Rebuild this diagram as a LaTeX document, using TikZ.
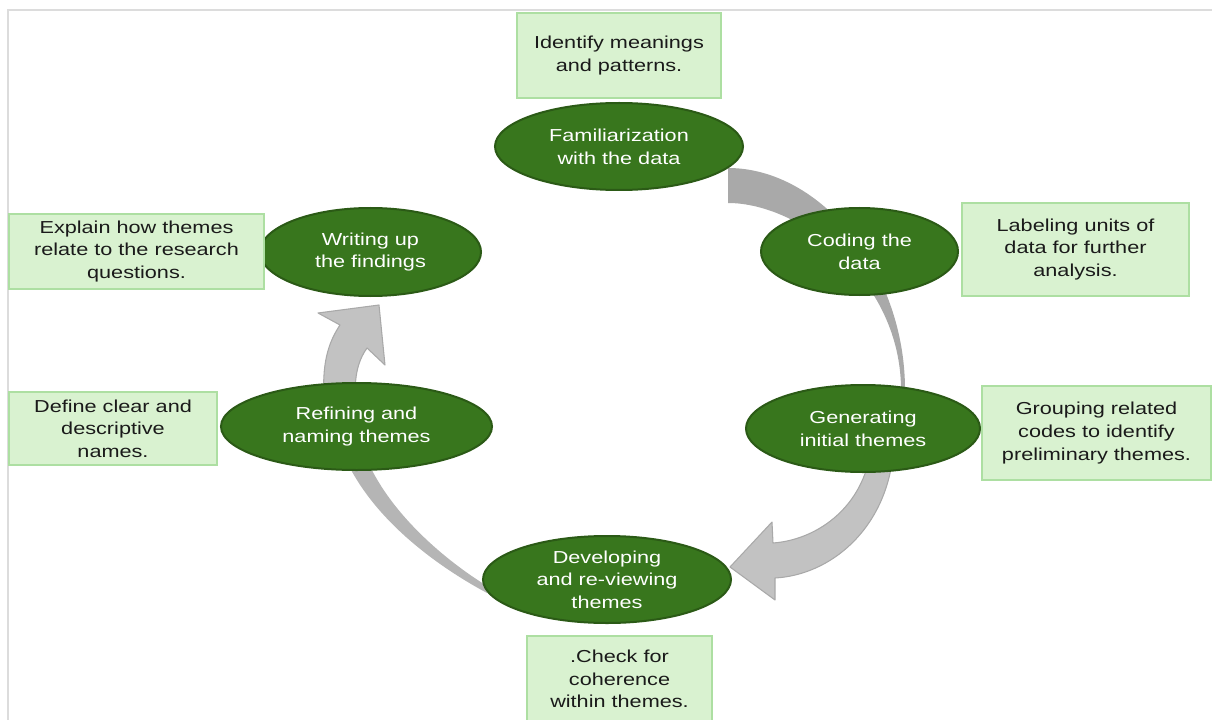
\documentclass[tikz,border=0pt]{standalone}
\usepackage{fontspec}
\setmainfont{Liberation Sans}[FakeStretch=1.25]
\usepackage{tikz}
\usetikzlibrary{shapes.geometric}
\definecolor{gn}{HTML}{38761D}
\definecolor{gnd}{HTML}{2B5A16}
\definecolor{bx}{HTML}{D9F2D0}
\definecolor{bxd}{HTML}{ADDFA2}
\definecolor{ar}{HTML}{C2C2C2}
\definecolor{ard}{HTML}{A9A9A9}
\definecolor{arc}{HTML}{B5B5B5}
\definecolor{fr}{HTML}{DCDCDC}
\definecolor{tx}{HTML}{1A1A1A}

\begin{document}
\begin{tikzpicture}[x=0.75pt,y=-0.75pt,
  stage/.style={ellipse, draw=gnd, line width=1.5pt, fill=gn, text=white,
    inner sep=0pt, align=center, minimum height=65.25pt,
    font=\fontsize{13pt}{17pt}\selectfont},
  note/.style={rectangle, draw=bxd, line width=1.8pt, fill=bx, text=tx,
    inner sep=0pt, align=center, font=\fontsize{13pt}{17pt}\selectfont},
  band/.style={fill=ar, draw=ard, line width=0.8pt, line join=round}]
  \useasboundingbox (0,0) rectangle (1212,720);
  \clip (0,0) rectangle (1212,720);
  % frame
  \draw[fr, line width=1.5pt] (8,722) -- (8,10) -- (1214,10);
  % curved arrows of the cycle
  \fill[ard] (728,168) .. controls (820,168) and (905,270) .. (905,390)
    -- (901,390) .. controls (901,280) and (800,203) .. (728,203) -- cycle;
  \path[band] (893,455) .. controls (885,530) and (830,575) .. (775,578)
    -- (775,600) -- (730,567) -- (772,522) -- (773,543)
    .. controls (815,540) and (860,510) .. (870,455) -- cycle;
  \fill[arc] (347,462) .. controls (375,520) and (435,565) .. (487,593)
    -- (487,586) .. controls (445,560) and (392,515) .. (368,462) -- cycle;
  \path[band] (324,395) .. controls (322,360) and (330,340) .. (340,325)
    -- (318,313) -- (379,305) -- (385,365) -- (367,348)
    .. controls (360,358) and (355,370) .. (355,395) -- cycle;
  % stages
  \node[stage, minimum width=186pt] (fam) at (619,146.5) {Familiarization\\with the data};
  \node[stage, minimum width=147.75pt] (cod) at (859.5,251.5) {Coding the\\data};
  \node[stage, minimum width=175.5pt] (gen) at (863,428.5) {Generating\\initial themes};
  \node[stage, minimum width=186pt] (dev) at (607,579.5) {Developing\\and re-viewing\\themes};
  \node[stage, minimum width=203.25pt] (ref) at (356.5,426.5) {Refining and\\naming themes};
  \node[stage, minimum width=165.75pt, minimum height=66pt] (wri) at (370.5,252) {Writing up\\the findings};
  % notes
  \node[note, minimum width=153pt, minimum height=63.75pt] (famn) at (619,55.5) {Identify meanings\\and patterns.};
  \node[note, minimum width=170.25pt, minimum height=69.75pt] (codn) at (1075.5,249.5) {Labeling units of\\data for further\\analysis.};
  \node[note, minimum width=171.75pt, minimum height=70.5pt] (genn) at (1096.5,433) {Grouping related\\codes to identify\\preliminary themes.};
  \node[note, minimum width=138.75pt, minimum height=64.5pt] (devn) at (619.5,679) {.Check for\\coherence\\within themes.};
  \node[note, minimum width=156pt, minimum height=54.75pt] (refn) at (113,428.5) {Define clear and\\descriptive\\names.};
  \node[note, minimum width=191.25pt, minimum height=56.25pt] (wrin) at (136.5,251.5) {Explain how themes\\relate to the research\\questions.};
\end{tikzpicture}
\end{document}
